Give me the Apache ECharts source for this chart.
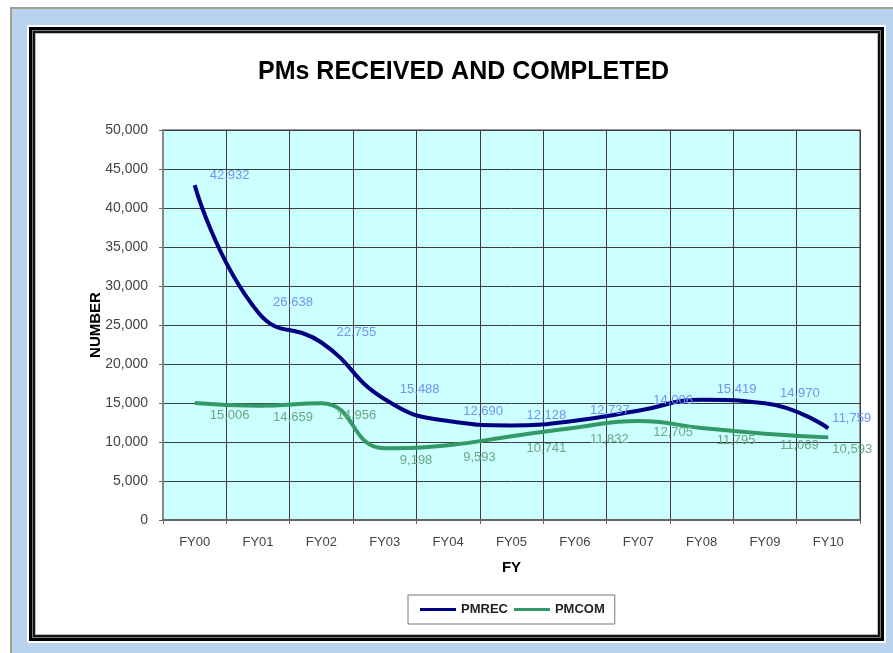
<!DOCTYPE html>
<html>
<head>
<meta charset="utf-8">
<script src="https://cdn.jsdelivr.net/npm/echarts@6/dist/echarts.min.js"></script>
<style>
  html, body { margin: 0; padding: 0; background: #fff; }
  .outer {
    position: absolute; left: 10px; top: 7px; width: 883px; height: 646px;
    border-left: 2px solid #a89c8e; border-top: 2px solid #a89c8e;
    background: #b9d3ee; box-sizing: border-box;
  }
  .frame {
    position: absolute; left: 27px; top: 25px; width: 859px; height: 618px;
    background: #fff; box-sizing: border-box;
    border: 2px solid #fff;
  }
  .frame .inner {
    position: absolute; left: 0; top: 0; right: 0; bottom: 0;
    border: 3px solid #000;
    box-shadow: inset 0 0 0 1px #777, inset 0 0 0 3px #111, inset 0 0 0 4px #bbb;
  }
  #chart { position: absolute; left: 0; top: 0; width: 893px; height: 653px; }
</style>
</head>
<body>
<div class="outer"></div>
<div class="frame"><div class="inner"></div></div>
<div id="chart"></div>
<script>
// fiscal years and counts
const years = ['FY00', 'FY01', 'FY02', 'FY03', 'FY04', 'FY05', 'FY06', 'FY07', 'FY08', 'FY09', 'FY10']
const pmRec = [42932, 26638, 22755, 15488, 12690, 12128, 12737, 14006, 15419, 14970, 11759]
const pmCom = [15006, 14659, 14956, 9198, 9593, 10741, 11832, 12705, 11795, 11069, 10593]
const yTicks = [0, 5000, 10000, 15000, 20000, 25000, 30000, 35000, 40000, 45000, 50000]

const font = '"Liberation Sans", Arial, sans-serif'
const fmt = v => v.toLocaleString('en-US')

// last label of each line sits closer to its point, like the original
function points (values) {
  return values.map((v, i) => i === values.length - 1
    ? { value: v, label: { distance: 4 } }
    : v)
}

let myChart = echarts.init(document.getElementById('chart'))
let option = {
  textStyle: { fontFamily: font },
  title: {
    text: 'PMs RECEIVED AND COMPLETED',
    left: 253,
    top: 55,
    textStyle: { fontFamily: font, fontSize: 25, fontWeight: 'bold', color: '#000' }
  },
  grid: {
    left: 163,
    right: 33,
    top: 130,
    bottom: 133,
    show: true,
    backgroundColor: '#ccffff',
    borderColor: '#999',
    borderWidth: 2
  },
  legend: {
    left: 408,
    top: 595,
    padding: [8, 10, 8, 12],
    borderColor: '#777',
    borderWidth: 1,
    icon: 'rect',
    itemWidth: 36,
    itemHeight: 3,
    itemGap: 6,
    textStyle: { fontFamily: font, fontSize: 13, fontWeight: 'bold', color: '#222' },
    data: ['PMREC', 'PMCOM']
  },
  xAxis: {
    type: 'category',
    data: years,
    boundaryGap: true,
    name: 'FY',
    nameLocation: 'middle',
    nameGap: 40,
    nameTextStyle: { fontFamily: font, fontSize: 15, fontWeight: 'bold', color: '#000' },
    axisLine: { lineStyle: { color: '#666', width: 2 } },
    axisTick: { show: true, length: 4, lineStyle: { color: '#666' } },
    axisLabel: { fontFamily: font, fontSize: 13, color: '#444', margin: 16 },
    splitLine: { show: true, lineStyle: { color: '#3c3c3c', width: 1 } }
  },
  yAxis: {
    type: 'value',
    min: yTicks[0],
    max: yTicks[yTicks.length - 1],
    interval: yTicks[1] - yTicks[0],
    name: 'NUMBER',
    nameLocation: 'middle',
    nameGap: 60,
    nameMoveOverlap: false,
    nameTextStyle: { fontFamily: font, fontSize: 15, fontWeight: 'bold', color: '#000' },
    axisLine: { show: true, lineStyle: { color: '#888', width: 2 } },
    axisTick: { show: true, length: 4, lineStyle: { color: '#666' } },
    axisLabel: { fontFamily: font, fontSize: 14, color: '#444', margin: 15, formatter: fmt },
    splitLine: { show: true, lineStyle: { color: '#3c3c3c', width: 1 } }
  },
  series: [
    {
      name: 'PMREC',
      type: 'line',
      data: points(pmRec),
      smooth: true,
      showSymbol: true,
      symbol: 'circle',
      symbolSize: 0.1,
      z: 3,
      itemStyle: { color: '#000080' },
      lineStyle: { color: '#000080', width: 4 },
      label: {
        show: true,
        position: 'right',
        distance: 15,
        offset: [0, -10],
        fontFamily: font,
        fontSize: 13,
        color: '#6f93f2',
        formatter: p => fmt(p.value)
      }
    },
    {
      name: 'PMCOM',
      type: 'line',
      data: points(pmCom),
      smooth: true,
      showSymbol: true,
      symbol: 'circle',
      symbolSize: 0.1,
      z: 2,
      itemStyle: { color: '#339966' },
      lineStyle: { color: '#339966', width: 4 },
      label: {
        show: true,
        position: 'right',
        distance: 15,
        offset: [0, 12],
        fontFamily: font,
        fontSize: 13,
        color: '#6aa882',
        formatter: p => fmt(p.value)
      }
    }
  ]
}
myChart.setOption(option)
</script>
</body>
</html>
